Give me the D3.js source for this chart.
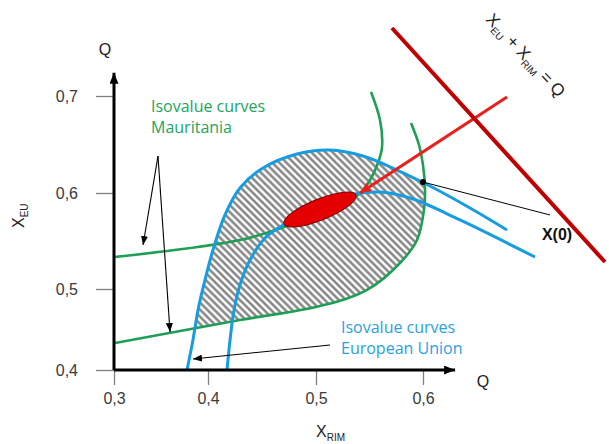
<!DOCTYPE html>
<html><head><meta charset="utf-8">
<script src="https://cdn.jsdelivr.net/npm/d3@7"></script>
<style>body{margin:0;background:#fff}svg{display:block}</style>
</head><body>
<svg id="c" width="609" height="444"></svg>
<script>
// ---- data (axis units: X_RIM horizontally, X_EU vertically) ----
const xTicks = [0.3, 0.4, 0.5, 0.6];
const yTicks = [0.4, 0.5, 0.6, 0.7];
// Mauritania isovalue curves
const greenUpper = [[0.301,0.5333],[0.4296,0.551],[0.4731,0.5656],[0.5393,0.5979],[0.5505,0.6134],[0.5579,0.6309],[0.5617,0.6474],[0.5598,0.6753],[0.5514,0.7041]];
const greenLower = [[0.3011,0.4333],[0.4296,0.4617],[0.5037,0.479],[0.5477,0.4988],[0.5785,0.5271],[0.5944,0.551],[0.6009,0.5823],[0.6019,0.6031],[0.6,0.6289],[0.5963,0.6495],[0.5888,0.6722]];
// European Union isovalue curves
const blueOuter = [[0.3777,0.4],[0.384,0.437],[0.3894,0.4741],[0.3968,0.5094],[0.4046,0.5406],[0.4157,0.5771],[0.4296,0.6052],[0.4509,0.6258],[0.4824,0.6402],[0.5131,0.6443],[0.5439,0.6381],[0.5757,0.6237],[0.6065,0.6072],[0.6439,0.5844],[0.6785,0.5615]];
const blueInner = [[0.4176,0.4],[0.4204,0.437],[0.4241,0.4741],[0.4296,0.5042],[0.4389,0.5302],[0.4528,0.5531],[0.4667,0.5646],[0.4778,0.5719],[0.5084,0.5896],[0.5364,0.599],[0.5598,0.601],[0.5907,0.5938],[0.6346,0.5719],[0.7047,0.5333]];
// contract set (ellipse tips)
const ellipseTips = [[0.4704,0.5677],[0.5374,0.5979]];
// red arrow towards the contract set
const redArrow = [[0.6785,0.699],[0.5411,0.6]];
// budget line X_EU + X_RIM = Q
const budgetLine = [[0.571,0.7701],[0.7701,0.5281]];
// starting point X(0)
const x0Point = [0.6,0.6113];
const x0Leader = [0.7187,0.5771];
// legend pointer arrows
const mauritaniaArrows = [[[0.3468,0.6381],[0.3309,0.5458]],[[0.3468,0.6381],[0.3596,0.4469]]];
const euArrow = [[0.5131,0.4309],[0.384,0.4136]];
const axisEnds = {x:0.63, y:0.724};

// ---- scales (hand-drawn axis: piecewise linear) ----
const x = d3.scaleLinear().domain(xTicks).range([114,208,316,423]);
const y = d3.scaleLinear().domain(yTicks).range([370,289,193,96]);

const svg = d3.select("#c");
const defs = svg.append("defs");
const GREEN = "#1f9e55", BLUE = "#179ddf", GTXT = "#23a45e", BTXT = "#28a2e2";

function marker(id, color, w, h){
  defs.append("marker").attr("id",id).attr("viewBox",`0 0 ${w} ${h}`)
    .attr("refX",w).attr("refY",h/2).attr("markerWidth",w).attr("markerHeight",h)
    .attr("markerUnits","userSpaceOnUse").attr("orient","auto")
    .append("path").attr("d",`M0,0L${w},${h/2}L0,${h}Z`).attr("fill",color);
}
marker("axArrow","#000",11,9);
marker("blkArrow","#000",9,7);
marker("redHead","#e8211d",11,10);

// hatch pattern
const pat = defs.append("pattern").attr("id","hatch").attr("patternUnits","userSpaceOnUse")
  .attr("width",5).attr("height",5).attr("patternTransform","rotate(-45)");
pat.append("line").attr("x1",2.5).attr("x2",2.5).attr("y1",0).attr("y2",5)
  .attr("stroke","#7a7a7a").attr("stroke-width",2.3);

const line = d3.line().x(d=>x(d[0])).y(d=>y(d[1])).curve(d3.curveCatmullRom.alpha(0.5));

// clip paths for hatched area (inside outer EU curve and left of lower Mauritania curve)
const bl = blueOuter[blueOuter.length-1], b0 = blueOuter[0];
defs.append("clipPath").attr("id","clipA").append("path")
  .attr("d", line(blueOuter) + `L${x(bl[0])},${y(0.36)}L${x(b0[0])},${y(0.36)}Z`);
const gl = greenLower[greenLower.length-1], g0 = greenLower[0];
defs.append("clipPath").attr("id","clipB").append("path")
  .attr("d", line(greenLower) + `L${x(gl[0])},${y(0.78)}L${x(0.28)},${y(0.78)}L${x(0.28)},${y(g0[1])}Z`);

svg.append("g").attr("clip-path","url(#clipA)")
  .append("g").attr("clip-path","url(#clipB)")
  .append("rect").attr("x",0).attr("y",0).attr("width",609).attr("height",444).attr("fill","url(#hatch)");

// curves
[greenUpper, greenLower].forEach(c=>svg.append("path").attr("d",line(c)).attr("fill","none")
  .attr("stroke",GREEN).attr("stroke-width",2.6));
[blueOuter, blueInner].forEach(c=>svg.append("path").attr("d",line(c)).attr("fill","none")
  .attr("stroke",BLUE).attr("stroke-width",3));

// ellipse
{
  const [a,b] = ellipseTips.map(d=>[x(d[0]),y(d[1])]);
  const cx=(a[0]+b[0])/2, cy=(a[1]+b[1])/2;
  const rx=Math.hypot(b[0]-a[0],b[1]-a[1])/2;
  const ang=Math.atan2(b[1]-a[1],b[0]-a[0])*180/Math.PI;
  svg.append("ellipse").attr("cx",cx).attr("cy",cy).attr("rx",rx).attr("ry",10.5)
    .attr("transform",`rotate(${ang},${cx},${cy})`)
    .attr("fill","#e40000").attr("stroke","#7a0000").attr("stroke-width",1);
}

// red arrow
svg.append("line").attr("x1",x(redArrow[0][0])).attr("y1",y(redArrow[0][1]))
  .attr("x2",x(redArrow[1][0])).attr("y2",y(redArrow[1][1]))
  .attr("stroke","#e8211d").attr("stroke-width",3.2).attr("marker-end","url(#redHead)");

// budget line
svg.append("line").attr("x1",x(budgetLine[0][0])).attr("y1",y(budgetLine[0][1]))
  .attr("x2",x(budgetLine[1][0])).attr("y2",y(budgetLine[1][1]))
  .attr("stroke","#c00000").attr("stroke-width",4);

// X(0) leader + dot
svg.append("line").attr("x1",x(x0Point[0])).attr("y1",y(x0Point[1]))
  .attr("x2",x(x0Leader[0])).attr("y2",y(x0Leader[1])).attr("stroke","#000").attr("stroke-width",1);
svg.append("circle").attr("cx",x(x0Point[0])).attr("cy",y(x0Point[1])).attr("r",3).attr("fill","#000");

// legend arrows
mauritaniaArrows.concat([euArrow]).forEach(a=>svg.append("line")
  .attr("x1",x(a[0][0])).attr("y1",y(a[0][1])).attr("x2",x(a[1][0])).attr("y2",y(a[1][1]))
  .attr("stroke","#000").attr("stroke-width",1.1).attr("marker-end","url(#blkArrow)"));

// axes (ticks)
const fmt = d=>d3.format(".1f")(d).replace(".",",");
const gx = svg.append("g").attr("transform",`translate(0,${y(0.4)})`)
  .call(d3.axisBottom(x).tickValues(xTicks).tickSize(15).tickPadding(8).tickFormat(fmt));
const gy = svg.append("g").attr("transform",`translate(${x(0.3)},0)`)
  .call(d3.axisLeft(y).tickValues(yTicks).tickSize(18).tickPadding(18).tickFormat(fmt));
[gx,gy].forEach(g=>{
  g.select(".domain").remove();
  g.selectAll(".tick line").attr("stroke","#808080").attr("stroke-width",1.3);
  g.selectAll(".tick text").attr("font-family","Liberation Sans, Arial, sans-serif")
   .attr("font-size",16).attr("fill","#3a3a3a");
});
// axis lines with arrows
svg.append("line").attr("x1",x(0.3)).attr("y1",y(0.4)).attr("x2",x(axisEnds.x)).attr("y2",y(0.4))
  .attr("stroke","#000").attr("stroke-width",3).attr("marker-end","url(#axArrow)");
svg.append("line").attr("x1",x(0.3)).attr("y1",y(0.4)).attr("x2",x(0.3)).attr("y2",y(axisEnds.y))
  .attr("stroke","#000").attr("stroke-width",3).attr("marker-end","url(#axArrow)");

// texts
const SANS = "Liberation Sans, Arial, sans-serif";
function t(xp,yp,txt,opt={}){
  return svg.append("text").attr("x",xp).attr("y",yp).text(txt)
    .attr("font-family",opt.ff||SANS).attr("font-size",opt.fs||16)
    .attr("fill",opt.fill||"#222").attr("text-anchor",opt.anchor||"start")
    .attr("font-weight",opt.fw||"normal");
}
t(105,55,"Q",{anchor:"middle"});
t(483,387,"Q",{anchor:"middle"});
t(557,240,"X(0)",{anchor:"middle",fw:"bold",fill:"#111"});

const CAL = "Open Sans, Lato, sans-serif";
t(151,112,"Isovalue curves",{ff:CAL,fs:16,fill:GTXT,fw:500});
t(151,133,"Mauritania",{ff:CAL,fs:16,fill:GTXT,fw:500});
t(341,333,"Isovalue curves",{ff:CAL,fs:16,fill:BTXT,fw:500});
t(341,354,"European Union",{ff:CAL,fs:16,fill:BTXT,fw:500});

// axis titles with subscripts
function subText(sel, parts, big){
  parts.forEach(p=>{
    sel.append("tspan").text(p[0]).attr("font-size",p[1]?10:big).attr("dy",p[2]||0);
  });
}
const xt = svg.append("text").attr("x",316).attr("y",437).attr("font-family",SANS).attr("fill","#222");
subText(xt,[["X",0],["RIM",1,4]],16);
const yt = svg.append("text").attr("transform","translate(24,228) rotate(-90)").attr("font-family",SANS).attr("fill","#222");
subText(yt,[["X",0],["EU",1,4]],16);
const bt = svg.append("text").attr("transform","translate(485,20) rotate(47)").attr("font-family",SANS).attr("fill","#222");
subText(bt,[["X",0],["EU",1,4],[" + X",0,-4],["RIM",1,4],[" = Q",0,-4]],17);
</script>
</body></html>
